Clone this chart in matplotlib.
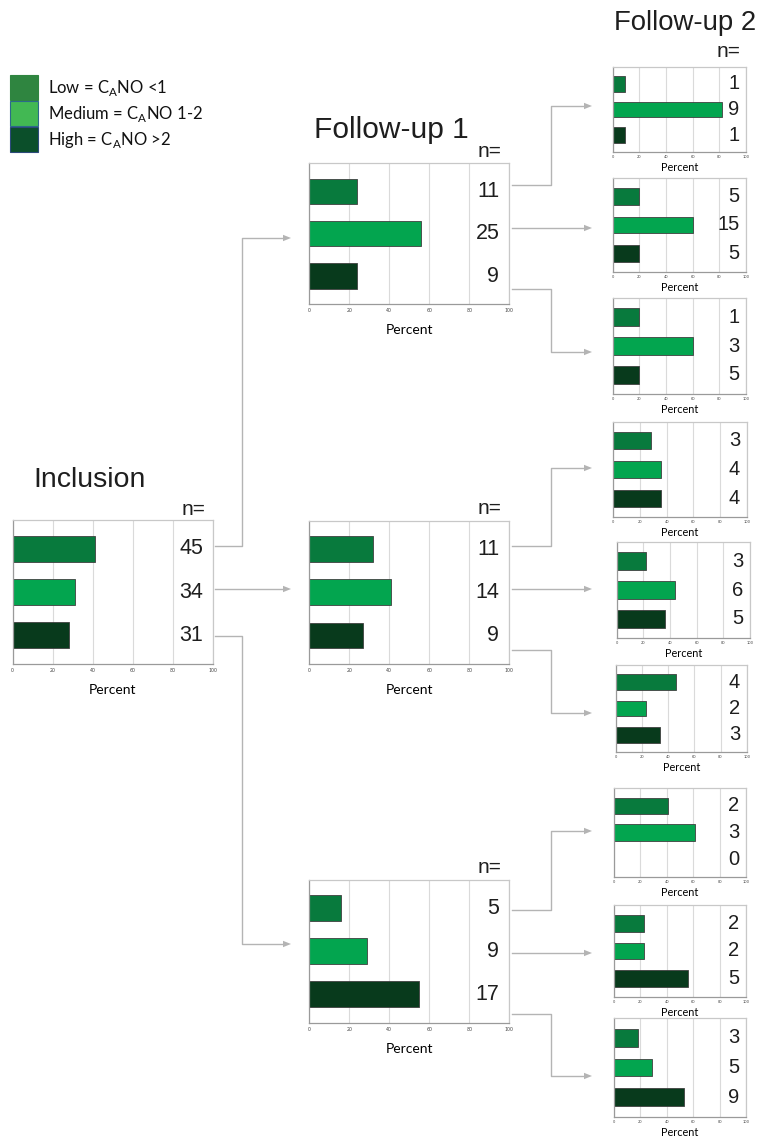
import matplotlib
matplotlib.use('Agg')
from matplotlib import pyplot as plt
from matplotlib.patches import Rectangle
from matplotlib.lines import Line2D

# Share of patients per C_A NO group at each visit, plus group sizes (n)
groups = ['Low', 'Medium', 'High']
inclusion_n = [45, 34, 31]
inclusion_pct = [41, 31, 28]

fu1_n = [[11, 25, 9], [11, 14, 9], [5, 9, 17]]
fu1_pct = [[24, 56, 24], [32, 41, 27], [16, 29, 55]]

fu2_n = [[1, 9, 1], [5, 15, 5], [1, 3, 5],
         [3, 4, 4], [3, 6, 5], [4, 2, 3],
         [2, 3, 0], [2, 2, 5], [3, 5, 9]]
fu2_pct = [[9, 82, 9], [20, 60, 20], [20, 60, 20],
           [28, 36, 36], [22, 44, 36], [46, 23, 34],
           [41, 61, 0], [23, 23, 56], [18, 29, 53]]

legend_labels = ['Low = C$_\\mathrm{A}$NO <1',
                 'Medium = C$_\\mathrm{A}$NO 1-2',
                 'High = C$_\\mathrm{A}$NO >2']

bar_colors = ['#087a3d', '#03a54f', '#083a1c']
legend_colors = ['#2f8540', '#42b853', '#0b4f2a']
legend_edges = ['#2f8540', '#2c6a8a', '#2c4a7a']

plt.rcParams['mathtext.fontset'] = 'custom'
plt.rcParams['mathtext.rm'] = 'Lato'

ARIAL = ['Liberation Sans', 'Arial', 'DejaVu Sans']

W, H = 762, 1136
fig = plt.figure(figsize=(W / 100, H / 100), dpi=100)


def box(x0, y0, x1, y1):
    # pixel box (top-left origin) -> figure fraction rect
    return [x0 / W, 1 - y1 / H, (x1 - x0) / W, (y1 - y0) / H]


def fx(x):
    return x / W


def fy(y):
    return 1 - y / H


def draw_panel(rect, pct, n, small=False):
    ax = fig.add_axes(rect)
    ax.barh(range(3), pct, height=0.6, color=bar_colors,
            edgecolor='#404040', linewidth=0.6, zorder=2)
    ax.set_xlim(0, 100)
    ax.set_ylim(2.66, -0.66)
    ax.set_yticks([])
    ax.set_xticks(range(0, 101, 20))
    ax.grid(axis='x', color='#dadada', linewidth=0.8)
    ax.set_axisbelow(True)
    for side in ['top', 'right']:
        ax.spines[side].set_color('#c8c8c8')
    for side in ['left', 'bottom']:
        ax.spines[side].set_color('#9a9a9a')
    for sp in ax.spines.values():
        sp.set_linewidth(0.9)
    ax.tick_params(axis='x', length=0, labelsize=2.6 if small else 3.4,
                   pad=2 if small else 3, labelcolor='#444444')
    ax.set_xlabel('Percent', fontfamily='Lato', fontsize=7.8 if small else 10,
                  labelpad=2 if small else 8)
    for i, v in enumerate(n):
        ax.text(95, i, str(v), ha='right', va='center',
                fontsize=14.5 if small else 15.5,
                family=ARIAL, color='#1e1e1e')
    return ax


def n_label(ax, dy):
    ax.annotate('n=', xy=(96, 1), xycoords=('data', 'axes fraction'),
                xytext=(0, dy), textcoords='offset points', ha='right',
                va='bottom', fontsize=15, family=ARIAL, color='#1e1e1e')


# Inclusion
ax = draw_panel(box(12.7, 520, 213, 664), inclusion_pct, inclusion_n)
n_label(ax, 1)
fig.text(fx(33), fy(487), 'Inclusion', fontsize=20.5,
         family=ARIAL, color='#1e1e1e', va='baseline')

# Follow-up 1
fu1_boxes = [(309.3, 163.3, 509.3, 304),
             (309.3, 520.7, 509.3, 664),
             (309.3, 880, 509.3, 1022.7)]
for b, pct, n in zip(fu1_boxes, fu1_pct, fu1_n):
    ax = draw_panel(box(*b), pct, n)
    n_label(ax, 2)
fig.text(fx(314), fy(138), 'Follow-up 1', fontsize=21.5,
         family=ARIAL, color='#1e1e1e', va='baseline')

# Follow-up 2
fu2_boxes = [(612.7, 67, 746, 152),
             (612.7, 178, 746, 272),
             (612.7, 298, 746, 394),
             (613.3, 422, 746.7, 517),
             (616.7, 542, 750, 638),
             (616, 665, 746.7, 752),
             (614, 788, 746, 877),
             (614, 905, 746, 997),
             (614, 1018, 746, 1117)]
for k, (b, pct, n) in enumerate(zip(fu2_boxes, fu2_pct, fu2_n)):
    ax = draw_panel(box(*b), pct, n, small=True)
    if k == 0:
        n_label(ax, 4)
fig.text(fx(614), fy(30), 'Follow-up 2', fontsize=19.8,
         family=ARIAL, color='#1e1e1e', va='baseline')

# Legend
for i, (lab, c, ec) in enumerate(zip(legend_labels, legend_colors, legend_edges)):
    y0 = 74.5 + i * 26
    fig.patches.append(Rectangle((fx(10), fy(y0 + 25)), 27.5 / W, 25 / H,
                                 transform=fig.transFigure, facecolor=c,
                                 edgecolor=ec, linewidth=0.8))
    fig.text(fx(48), fy(y0 + 13), lab, fontsize=12, fontfamily='Lato',
             va='center', color='#111111')

# Connecting arrows between visits
line_kw = dict(color='#b4b4b4', linewidth=1.0, transform=fig.transFigure)


def connector(x0, y0, xm, y1, x1):
    xs = [x0, xm, xm, x1 - 7]
    ys = [y0, y0, y1, y1]
    fig.add_artist(Line2D([fx(x) for x in xs], [fy(y) for y in ys], **line_kw))
    fig.add_artist(plt.Polygon([(fx(x1 - 8), fy(y1 - 3.2)),
                                (fx(x1), fy(y1)),
                                (fx(x1 - 8), fy(y1 + 3.2))],
                               closed=True, transform=fig.transFigure,
                               facecolor='#b4b4b4', edgecolor='none'))


connector(215, 546, 242, 238, 291)
connector(215, 589, 242, 589, 291)
connector(215, 636, 242, 944, 291)

for y_top, y_mid, y_bot, t_up, t_mid, t_down in [
        (185, 228, 289, 106, 228, 352),
        (546, 589, 650, 468, 589, 713),
        (910, 953, 1014, 831, 953, 1076)]:
    connector(512, y_top, 551, t_up, 592)
    connector(512, y_mid, 551, t_mid, 592)
    connector(512, y_bot, 551, t_down, 592)

fig.savefig('out.png', dpi=100)
